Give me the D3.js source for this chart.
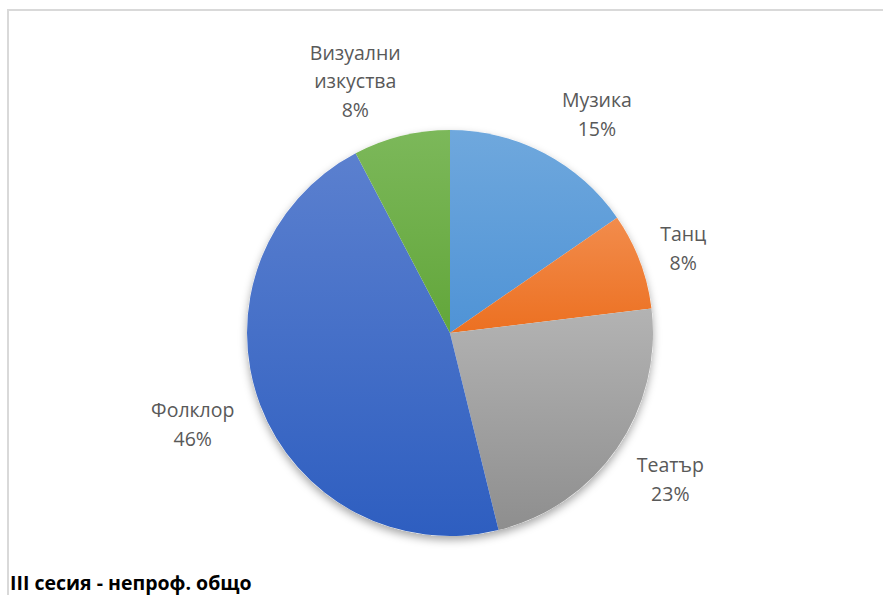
<!DOCTYPE html>
<html><head><meta charset="utf-8">
<script src="https://cdn.jsdelivr.net/npm/d3@7"></script>
<style>body{margin:0;background:#fff;} svg{display:block;}</style>
</head><body>
<script>
const categories = ["Музика","Танц","Театър","Фолклор","Визуални изкуства"];
const values = [2,1,3,6,1];
const labelLines = [["Музика"],["Танц"],["Театър"],["Фолклор"],["Визуални","изкуства"]];
const colorsTop = ["#6fa8dd","#f28c4c","#b3b3b3","#5b80cf","#7cb85a"];
const colorsBottom = ["#4f93d6","#ec7021","#8e8e8e","#2e5ec0","#62a63a"];
const title = "III сесия - непроф. общо";
// label nudges (layout, px) relative to the outer centroid
const labelNudge = [[27,10],[-8,7],[8,0],[-16,0],[-33,-1]];

const W=883,H=595;
const svg=d3.select("body").append("svg").attr("width",W).attr("height",H);
const defs=svg.append("defs");
const f=defs.append("filter").attr("id","sh").attr("x","-20%").attr("y","-20%").attr("width","140%").attr("height","140%");
f.append("feDropShadow").attr("dx",0).attr("dy",4).attr("stdDeviation",4).attr("flood-color","#000").attr("flood-opacity",0.35);
categories.forEach((c,i)=>{
  const g=defs.append("linearGradient").attr("id","g"+i).attr("x1",0).attr("y1",0).attr("x2",0).attr("y2",1);
  g.append("stop").attr("offset","0%").attr("stop-color",colorsTop[i]);
  g.append("stop").attr("offset","100%").attr("stop-color",colorsBottom[i]);
});
svg.append("path").attr("d",`M8,${H} L8,10 L${W},10`).attr("fill","none").attr("stroke","#d9d9d9").attr("stroke-width",2);

const cx=450,cy=333,r=203;
const total=d3.sum(values);
const pie=d3.pie().sort(null).value(d=>d)(values);
const arc=d3.arc().innerRadius(0).outerRadius(r);
const g=svg.append("g").attr("transform",`translate(${cx},${cy})`);
g.append("circle").attr("r",r).attr("fill","#fff").attr("filter","url(#sh)");
g.selectAll("path.s").data(pie).join("path").attr("class","s").attr("d",arc)
  .attr("fill",(d,i)=>`url(#g${i})`);

const labelArc=d3.arc().innerRadius(r+55).outerRadius(r+55);
const lab=svg.append("g").attr("transform",`translate(${cx},${cy})`)
  .attr("font-family","'Open Sans', sans-serif").attr("font-size",19.5).attr("fill","#595959").attr("text-anchor","middle");
pie.forEach((d,i)=>{
  const [x0,y]=labelArc.centroid(d);
  const x=x0+labelNudge[i][0];
  const lines=labelLines[i].concat([Math.round(values[i]/total*100)+"%"]);
  const lh=28.5;
  const y0=y+labelNudge[i][1]-(lines.length-1)*lh/2;
  const t=lab.append("text");
  lines.forEach((l,k)=>t.append("tspan").attr("x",x).attr("y",y0+k*lh).attr("dy","0.35em").text(l));
});
svg.append("text").attr("x",10).attr("y",590).attr("font-family","'Open Sans', sans-serif").attr("font-weight","bold").attr("font-size",19.5).attr("fill","#000").text(title);
</script>
</body></html>
